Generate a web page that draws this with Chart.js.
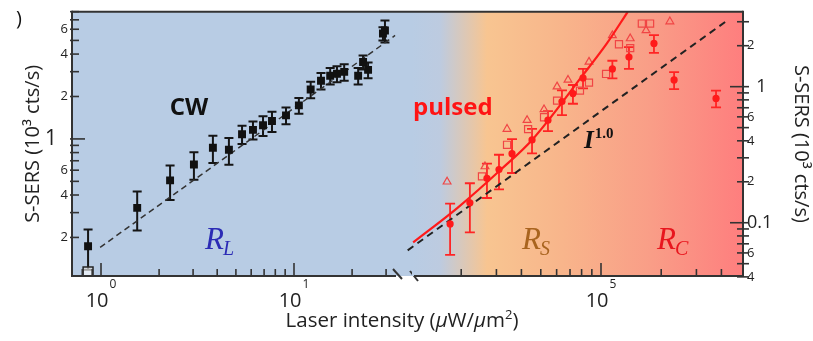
<!DOCTYPE html>
<html>
<head>
<meta charset="utf-8">
<script src="https://cdn.jsdelivr.net/npm/chart.js@4.4.1/dist/chart.umd.min.js"></script>
<style>
  html, body { margin: 0; padding: 0; background: #fff; }
  #wrap { position: relative; width: 813px; height: 341px; }
  #wrap canvas { position: absolute; left: 0; top: 0; }
</style>
</head>
<body>
<div id="wrap">
  <canvas id="cwChart" width="813" height="341"></canvas>
  <canvas id="pulsedChart" width="813" height="341"></canvas>
</div>
<script>
// ---- CW excitation (left panel), S-SERS in 10^3 cts/s ----
var cwIntensity = [0.857, 1.54, 2.28, 3.03, 3.80, 4.60, 5.38, 6.13, 6.91, 7.69, 9.09, 10.6, 12.2, 13.8, 15.4, 16.7, 18.2, 21.5, 22.8, 24.2, 28.9, 29.6];
var cwSignal    = [0.173, 0.324, 0.508, 0.658, 0.865, 0.837, 1.08, 1.16, 1.25, 1.34, 1.47, 1.73, 2.24, 2.59, 2.81, 2.90, 2.99, 2.81, 3.51, 3.09, 5.60, 5.88];
var cwError     = [0.055, 0.10, 0.14, 0.145, 0.19, 0.18, 0.16, 0.17, 0.20, 0.22, 0.20, 0.22, 0.30, 0.35, 0.38, 0.38, 0.40, 0.38, 0.40, 0.40, 0.60, 1.05];
var cwOpenIntensity = [0.857];
var cwOpenSignal    = [0.114];
var cwFitIntensity  = [0.99, 33.4];
var cwFitSignal     = [0.170, 5.42];

// ---- pulsed excitation (right panel) ----
var pulsedIntensity = [1.76e4, 2.21e4, 2.69e4, 3.09e4, 3.59e4, 4.52e4, 5.43e4, 6.38e4, 7.24e4, 8.13e4, 1.14e5, 1.38e5, 1.84e5, 2.32e5, 3.76e5];
var pulsedSignal    = [0.098, 0.140, 0.212, 0.246, 0.322, 0.406, 0.567, 0.778, 0.889, 1.16, 1.35, 1.65, 2.08, 1.12, 0.819];
var pulsedError     = [0.040, 0.055, 0.060, 0.070, 0.090, 0.083, 0.095, 0.16, 0.14, 0.19, 0.20, 0.30, 0.31, 0.16, 0.115];
var squareIntensity = [2.54e4, 3.39e4, 4.32e4, 5.19e4, 6.03e4, 7.85e4, 8.71e4, 1.06e5, 1.23e5, 1.40e5, 1.60e5, 1.76e5];
var squareSignal    = [0.219, 0.374, 0.488, 0.596, 0.79, 0.935, 1.07, 1.24, 2.05, 1.92, 2.91, 2.91];
var triangleIntensity = [1.70e4, 2.63e4, 3.39e4, 4.27e4, 5.19e4, 6.03e4, 6.84e4, 8.71e4, 1.14e5, 1.40e5, 1.68e5, 2.21e5];
var triangleSignal    = [0.20, 0.259, 0.488, 0.567, 0.68, 1.0, 1.12, 1.52, 2.38, 2.26, 2.59, 3.01];
var curveIntensity  = [1.15e4, 1.91e4, 3.16e4, 4.57e4, 8.13e4, 1.07e5, 1.36e5];
var curveSignal     = [0.0716, 0.128, 0.246, 0.413, 1.22, 2.08, 3.55];
var linearIntensity = [1.08e4, 4.27e5];
var linearSignal    = [0.0627, 3.06];

// ---- axes ----
var cwTicksX     = [0.8, 0.9, 1, 2, 3, 4, 5, 6, 7, 8, 9, 10, 20, 30];
var pulsedTicksX = [2e4, 3e4, 4e4, 5e4, 6e4, 7e4, 8e4, 9e4, 1e5, 2e5, 3e5, 4e5];
var leftTicksY   = [0.2, 0.3, 0.4, 0.5, 0.6, 0.7, 0.8, 0.9, 1, 2, 3, 4, 5, 6, 7, 8];
var leftLabelsY  = ['2', '', '4', '', '6', '', '', '', '1  ', '2', '', '4', '', '6', '', ''];
var rightTicksY  = [0.04, 0.05, 0.06, 0.07, 0.08, 0.09, 0.1, 0.2, 0.3, 0.4, 0.5, 0.6, 0.7, 0.8, 0.9, 1, 2, 3];
var rightLabelsY = ['4', '', '6', '', '', '', '0.1', '2', '', '4', '', '6', '', '', '', '  1', '2', ''];

var SANS = "'Open Sans', sans-serif";
var SERIF = "'Liberation Serif', 'DejaVu Serif', serif";
var BREAK_X = 412;

function pairs(xs, ys) {
    return xs.map(function(x, i){ return { x: x, y: ys[i] }; });
}
function isDecade(v) {
    var l = Math.log10(v);
    return Math.abs(l - Math.round(l)) < 1e-6;
}
function line(ctx, x1, y1, x2, y2) {
    ctx.beginPath(); ctx.moveTo(x1, y1); ctx.lineTo(x2, y2); ctx.stroke();
}
// draws runs of text with different fonts (sub/superscripts)
function runs(ctx, parts, x, y, align) {
    var total = 0;
    parts.forEach(function(p){
        ctx.font = p.f; p.w = ctx.measureText(p.t).width; total += p.w + (p.dx || 0);
    });
    var cx = align === 'center' ? x - total / 2 : x;
    ctx.textAlign = 'left'; ctx.textBaseline = 'alphabetic';
    parts.forEach(function(p){
        ctx.font = p.f; ctx.fillStyle = p.c || '#222';
        cx += (p.dx || 0);
        ctx.fillText(p.t, cx, y + (p.dy || 0));
        cx += p.w;
    });
}
function decadeLabel(ctx, value, px) {
    runs(ctx, [
        { t: '10', f: '20px ' + SANS },
        { t: String(Math.round(Math.log10(value))), f: '12px ' + SANS, dy: -19, dx: 1 }
    ], px, 307, 'center');
}

// error bars under the markers
var errorBars = {
    id: 'errorBars',
    beforeDatasetsDraw: function(chart) {
        var ctx = chart.ctx, xs = chart.scales.x, ys = chart.scales.y, a = chart.chartArea;
        ctx.save();
        ctx.beginPath(); ctx.rect(a.left, a.top, a.right - a.left, a.bottom - a.top); ctx.clip();
        chart.data.datasets.forEach(function(ds){
            if (!ds.errors) return;
            ctx.strokeStyle = ds.errorColor; ctx.lineWidth = ds.errorWidth;
            ds.data.forEach(function(p, i){
                var e = ds.errors[i];
                var px = xs.getPixelForValue(p.x);
                var top = ys.getPixelForValue(p.y + e);
                var bot = ys.getPixelForValue(p.y - e);
                var c = ds.capWidth / 2;
                line(ctx, px, top, px, bot);
                line(ctx, px - c, top, px + c, top);
                line(ctx, px - c, bot, px + c, bot);
            });
        });
        ctx.restore();
    }
};

var cwFrame = {
    id: 'cwFrame',
    beforeDraw: function(chart) {
        var a = chart.chartArea, ctx = chart.ctx;
        ctx.save();
        ctx.fillStyle = '#b8cce4';
        ctx.fillRect(a.left, a.top, BREAK_X - a.left, a.bottom - a.top);
        ctx.restore();
    },
    afterDraw: function(chart) {
        var a = chart.chartArea, ctx = chart.ctx, xs = chart.scales.x, ys = chart.scales.y;
        ctx.save();
        ctx.strokeStyle = '#333'; ctx.lineWidth = 2;
        line(ctx, a.left, a.top, BREAK_X, a.top);
        line(ctx, a.left, a.top - 1, a.left, a.bottom + 1);
        line(ctx, a.left, a.bottom, a.right - 8, a.bottom);
        // axis break marks
        line(ctx, a.right - 11, a.bottom - 7, a.right - 2, a.bottom + 3);
        line(ctx, a.right + 6, a.bottom - 5, a.right + 14, a.bottom + 5);
        ctx.lineWidth = 1.6;
        xs.ticks.forEach(function(t){
            var px = xs.getPixelForValue(t.value);
            line(ctx, px, a.bottom, px, a.bottom - (isDecade(t.value) ? 13 : 7));
        });
        ys.ticks.forEach(function(t){
            var py = ys.getPixelForValue(t.value);
            line(ctx, a.left - 2, py, a.left + (isDecade(t.value) ? 13 : 7), py);
        });
        xs.ticks.forEach(function(t){
            if (isDecade(t.value)) decadeLabel(ctx, t.value, xs.getPixelForValue(t.value));
        });
        // annotations
        runs(ctx, [{ t: ')', f: '20px ' + SANS, c: '#111' }], 16, 25, 'left');
        runs(ctx, [{ t: 'CW', f: 'bold 24px ' + SANS, c: '#111' }], 189, 115, 'center');
        runs(ctx, [
            { t: 'R', f: 'italic 31px ' + SERIF, c: '#2b2bb5' },
            { t: 'L', f: 'italic 20px ' + SERIF, c: '#2b2bb5', dy: 6, dx: -1 }
        ], 205, 249, 'left');
        runs(ctx, [
            { t: 'Laser intensity (', f: '20.5px ' + SANS },
            { t: '\u03bc', f: 'italic 20.5px ' + SANS },
            { t: 'W/', f: '20.5px ' + SANS },
            { t: '\u03bc', f: 'italic 20.5px ' + SANS },
            { t: 'm', f: '20.5px ' + SANS },
            { t: '2', f: '13px ' + SANS, dy: -8 },
            { t: ')', f: '20.5px ' + SANS }
        ], 402, 327, 'center');
        ctx.restore();
    }
};

var pulsedFrame = {
    id: 'pulsedFrame',
    beforeDraw: function(chart) {
        var a = chart.chartArea, ctx = chart.ctx;
        var w = a.right - a.left;
        var g = ctx.createLinearGradient(a.left, 0, a.right, 0);
        g.addColorStop(0, '#b8cce4');
        g.addColorStop(28 / w, '#bdcbe0');
        g.addColorStop(75 / w, '#f8c591');
        g.addColorStop(150 / w, '#f8b58b');
        g.addColorStop(240 / w, '#f99d87');
        g.addColorStop(1, '#fe7e7e');
        ctx.save();
        ctx.fillStyle = g;
        ctx.fillRect(a.left, a.top, w, a.bottom - a.top);
        ctx.restore();
    },
    afterDraw: function(chart) {
        var a = chart.chartArea, ctx = chart.ctx, xs = chart.scales.x, ys = chart.scales.y;
        ctx.save();
        ctx.strokeStyle = '#333'; ctx.lineWidth = 2;
        line(ctx, a.left, a.top, a.right, a.top);
        line(ctx, a.right, a.top - 1, a.right, a.bottom + 1);
        line(ctx, a.left + 2, a.bottom, a.right, a.bottom);
        ctx.lineWidth = 1.6;
        xs.ticks.forEach(function(t){
            var px = xs.getPixelForValue(t.value);
            line(ctx, px, a.bottom, px, a.bottom - (isDecade(t.value) ? 13 : 7));
        });
        ys.ticks.forEach(function(t){
            var py = ys.getPixelForValue(t.value);
            line(ctx, a.right - (isDecade(t.value) ? 13 : 6), py, a.right + 6, py);
        });
        xs.ticks.forEach(function(t){
            if (isDecade(t.value)) decadeLabel(ctx, t.value, xs.getPixelForValue(t.value));
        });
        runs(ctx, [{ t: 'pulsed', f: 'bold 24px ' + SANS, c: '#ff1414' }], 413, 115, 'left');
        runs(ctx, [
            { t: 'I', f: 'italic bold 25px ' + SERIF, c: '#111' },
            { t: '1.0', f: 'bold 15px ' + SERIF, c: '#111', dy: -10, dx: 1 }
        ], 584, 148, 'left');
        runs(ctx, [
            { t: 'R', f: 'italic 31px ' + SERIF, c: '#a9641f' },
            { t: 'S', f: 'italic 20px ' + SERIF, c: '#a9641f', dy: 6, dx: -1 }
        ], 522, 249, 'left');
        runs(ctx, [
            { t: 'R', f: 'italic 31px ' + SERIF, c: '#e8161e' },
            { t: 'C', f: 'italic 20px ' + SERIF, c: '#e8161e', dy: 6, dx: -1 }
        ], 657, 249, 'left');
        ctx.restore();
    }
};

function logAxis(min, max, ticks) {
    return {
        type: 'logarithmic', min: min, max: max, bounds: 'data',
        afterBuildTicks: function(s){ s.ticks = ticks.map(function(v){ return { value: v }; }); },
        grid: { display: false, drawTicks: false },
        border: { display: false }
    };
}

// left panel
var cwX = logAxis(0.7075, 37.15, cwTicksX);
cwX.afterFit = function(s){ s.height = 65; };
cwX.ticks = { display: false };
var cwY = logAxis(0.1065, 7.98, leftTicksY);
cwY.position = 'left';
cwY.afterFit = function(s){ s.width = 72; };
cwY.ticks = {
    autoSkip: false, padding: 4, color: '#222',
    font: function(c){ return { family: SANS, size: c.tick && c.tick.value === 1 ? 21 : 13 }; },
    callback: function(v, i){ return leftLabelsY[i]; }
};
cwY.title = { display: true, text: 'S-SERS (10\u00b3 cts/s)', color: '#222',
    font: { family: SANS, size: 20 }, padding: { top: 21, bottom: 0 } };

new Chart(document.getElementById('cwChart'), {
    type: 'scatter',
    data: {
        datasets: [{
            label: 'CW',
            data: pairs(cwIntensity, cwSignal),
            errors: cwError, errorColor: '#151515', errorWidth: 2, capWidth: 9,
            pointStyle: 'rect', pointRadius: 5.6,
            backgroundColor: '#111', borderColor: '#111', borderWidth: 0,
            order: 1
        }, {
            label: 'CW (open)',
            data: pairs(cwOpenIntensity, cwOpenSignal),
            pointStyle: 'rect', pointRadius: 7,
            backgroundColor: 'rgba(255,255,255,0.6)', borderColor: '#222', borderWidth: 1.5,
            order: 2
        }, {
            label: 'CW fit',
            type: 'line',
            data: pairs(cwFitIntensity, cwFitSignal),
            borderColor: '#333', borderWidth: 1.5, borderDash: [6, 4],
            pointRadius: 0, fill: false,
            order: 3
        }]
    },
    options: {
        responsive: false, animation: false, events: [],
        layout: { padding: { left: 0, right: 813 - 404, top: 8, bottom: 0 } },
        plugins: { legend: { display: false }, tooltip: { enabled: false } },
        scales: { x: cwX, y: cwY }
    },
    plugins: [cwFrame, errorBars]
});

// right panel
var pX = logAxis(11350, 512900, pulsedTicksX);
pX.afterFit = function(s){ s.height = 65; };
pX.ticks = { display: false };
var pY = logAxis(0.0406, 3.55, rightTicksY);
pY.position = 'right';
pY.afterFit = function(s){ s.width = 70; };
pY.ticks = {
    autoSkip: false, padding: 4, color: '#222',
    font: function(c){ return { family: SANS, size: c.tick && isDecade(c.tick.value) ? 18 : 13 }; },
    callback: function(v, i){ return rightLabelsY[i]; }
};
pY.title = { display: true, text: 'S-SERS (10\u00b3 cts/s)', color: '#222',
    font: { family: SANS, size: 20 }, padding: { top: 0, bottom: 0 } };

new Chart(document.getElementById('pulsedChart'), {
    type: 'scatter',
    data: {
        datasets: [{
            label: 'pulsed',
            data: pairs(pulsedIntensity, pulsedSignal),
            errors: pulsedError, errorColor: '#ff2424', errorWidth: 1.8, capWidth: 10,
            pointStyle: 'circle', pointRadius: 3.6,
            backgroundColor: '#ff1a1a', borderColor: '#ff1a1a', borderWidth: 0,
            order: 1
        }, {
            label: 'pulsed fit',
            type: 'line',
            data: pairs(curveIntensity, curveSignal),
            borderColor: '#ff1a1a', borderWidth: 2.2, pointRadius: 0, fill: false,
            cubicInterpolationMode: 'monotone',
            order: 2
        }, {
            label: 'squares',
            data: pairs(squareIntensity, squareSignal),
            pointStyle: 'rect', pointRadius: 5,
            backgroundColor: 'rgba(0,0,0,0)', borderColor: '#f04545', borderWidth: 1.2,
            order: 3
        }, {
            label: 'triangles',
            data: pairs(triangleIntensity, triangleSignal),
            pointStyle: 'triangle', pointRadius: 4.5,
            backgroundColor: 'rgba(0,0,0,0)', borderColor: '#f04545', borderWidth: 1.2,
            order: 4
        }, {
            label: 'I^1.0',
            type: 'line',
            data: pairs(linearIntensity, linearSignal),
            borderColor: '#222', borderWidth: 2, borderDash: [7, 5],
            pointRadius: 0, fill: false,
            clip: { left: 6, top: 0, right: 0, bottom: 0 },
            order: 5
        }]
    },
    options: {
        responsive: false, animation: false, events: [],
        layout: { padding: { left: BREAK_X, right: 0, top: 8, bottom: 0 } },
        plugins: { legend: { display: false }, tooltip: { enabled: false } },
        scales: { x: pX, y: pY }
    },
    plugins: [pulsedFrame, errorBars]
});
</script>
</body>
</html>
